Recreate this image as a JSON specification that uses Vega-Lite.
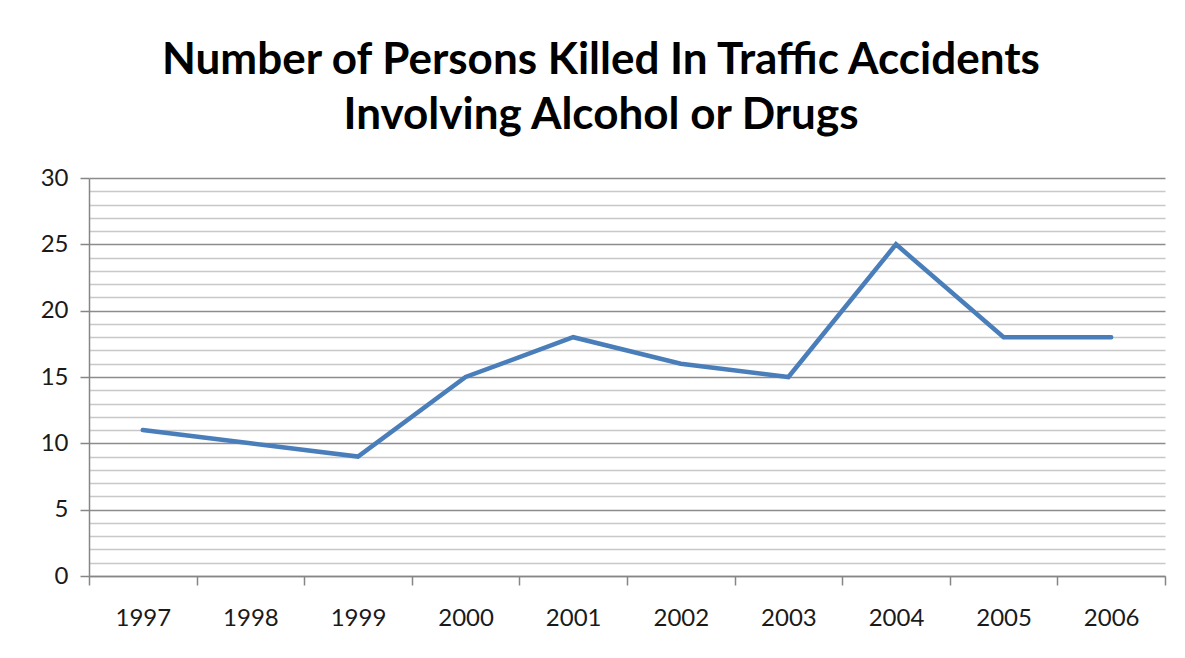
{
  "$schema": "https://vega.github.io/schema/vega-lite/v6.json",
  "width": 1076,
  "height": 398,
  "autosize": {"type": "none"},
  "padding": {"left": 89, "top": 178, "right": 20, "bottom": 82},
  "background": "white",
  "config": {"view": {"stroke": null}, "font": "Lato"},
  "title": {
    "text": ["Number of Persons Killed In Traffic Accidents", "Involving Alcohol or Drugs"],
    "font": "Lato",
    "fontSize": 44,
    "fontWeight": "bold",
    "color": "#000000",
    "lineHeight": 55,
    "anchor": "middle",
    "frame": "group",
    "dx": -26,
    "offset": 28
  },
  "data": {
    "values": [
      {"year": "1997", "killed": 11},
      {"year": "1998", "killed": 10},
      {"year": "1999", "killed": 9},
      {"year": "2000", "killed": 15},
      {"year": "2001", "killed": 18},
      {"year": "2002", "killed": 16},
      {"year": "2003", "killed": 15},
      {"year": "2004", "killed": 25},
      {"year": "2005", "killed": 18},
      {"year": "2006", "killed": 18}
    ]
  },
  "mark": {"type": "line", "color": "#4a7ebb", "strokeWidth": 4.5, "strokeJoin": "miter", "strokeCap": "round"},
  "encoding": {
    "x": {
      "field": "year",
      "type": "ordinal",
      "bandPosition": 0.5,
      "scale": {"type": "band", "paddingInner": 0, "paddingOuter": 0},
      "axis": {
        "title": null,
        "labelAngle": 0,
        "labelFont": "Lato",
        "labelFontSize": 24,
        "labelColor": "#1a1a1a",
        "labelPadding": 21,
        "tickBand": "extent",
        "tickSize": 9,
        "tickColor": "#868686",
        "tickWidth": 1.5,
        "domainColor": "#868686",
        "domainWidth": 1.5,
        "grid": false
      }
    },
    "y": {
      "field": "killed",
      "type": "quantitative",
      "scale": {"domain": [0, 30], "nice": false},
      "axis": {
        "title": null,
        "values": [0,1,2,3,4,5,6,7,8,9,10,11,12,13,14,15,16,17,18,19,20,21,22,23,24,25,26,27,28,29,30],
        "labelExpr": "datum.value % 5 === 0 ? datum.label : ''",
        "labelFont": "Lato",
        "labelFontSize": 24,
        "labelColor": "#1a1a1a",
        "labelPadding": 12,
        "tickSize": 9,
        "tickColor": "#868686",
        "tickOpacity": {"condition": {"test": "datum.value % 5 === 0", "value": 1}, "value": 0},
        "tickWidth": 1.5,
        "domainColor": "#868686",
        "domainWidth": 1.5,
        "grid": true,
        "gridColor": {"condition": {"test": "datum.value % 5 === 0", "value": "#8c8c8c"}, "value": "#c8c8c8"},
        "gridWidth": 1.5
      }
    }
  }
}
